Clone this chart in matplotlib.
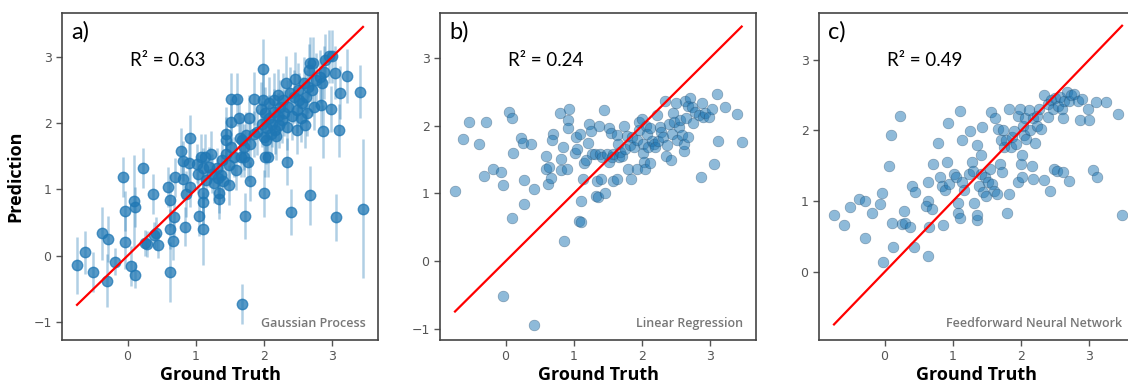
import matplotlib.pyplot as plt

# Ground truth / prediction pairs
# a) Gaussian process (with predictive std)
gp_x = [-0.74, -0.62, -0.51, -0.37, -0.30, -0.29, -0.18, -0.06, -0.04, -0.03,
        0.05, 0.10, 0.11, 0.11, 0.23, 0.26, 0.28, 0.38, 0.39, 0.41,
        0.44, 0.59, 0.62, 0.62, 0.62, 0.66, 0.68, 0.69, 0.78, 0.81,
        0.82, 0.84, 0.85, 0.90, 0.92, 0.92, 1.02, 1.03, 1.05, 1.07,
        1.10, 1.10, 1.11, 1.11, 1.13, 1.15, 1.20, 1.23, 1.24, 1.27,
        1.31, 1.32, 1.34, 1.34, 1.37, 1.38, 1.40, 1.44, 1.44, 1.45,
        1.48, 1.49, 1.51, 1.51, 1.52, 1.56, 1.59, 1.61, 1.63, 1.65,
        1.66, 1.68, 1.70, 1.71, 1.72, 1.73, 1.76, 1.78, 1.79, 1.80,
        1.85, 1.85, 1.68, 1.90, 1.95, 1.97, 1.98, 1.99, 2.00, 2.00,
        2.01, 2.02, 2.03, 2.05, 2.06, 2.07, 2.07, 2.10, 2.12, 2.14,
        2.15, 2.16, 2.17, 2.20, 2.20, 2.22, 2.24, 2.27, 2.28, 2.30,
        2.32, 2.33, 2.34, 2.35, 2.38, 2.40, 2.41, 2.44, 2.46, 2.48,
        2.49, 2.50, 2.51, 2.54, 2.56, 2.58, 2.60, 2.61, 2.63, 2.64,
        2.66, 2.68, 2.68, 2.71, 2.72, 2.73, 2.76, 2.82, 2.84, 2.85,
        2.87, 2.88, 2.90, 2.95, 2.98, 3.00, 3.04, 3.05, 3.10, 3.11,
        3.22, 3.40, 3.45]
gp_y = [-0.14, 0.05, -0.24, 0.34, -0.38, 0.25, -0.09, 1.19, 0.20, 0.68,
        -0.16, 0.82, 0.74, -0.29, 1.32, 0.19, 0.18, 0.93, 0.31, 0.34,
        0.16, 1.04, 0.84, 0.40, -0.25, 0.23, 0.58, 1.18, 1.58, 1.43,
        1.16, 0.44, 0.93, 1.40, 1.77, 1.04, 1.39, 1.24, 0.60, 1.49,
        0.41, 0.81, 0.95, 1.32, 1.49, 1.14, 1.34, 1.53, 1.24, 1.10,
        1.32, 1.17, 0.94, 0.86, 1.22, 1.44, 1.12, 1.54, 1.84, 1.74,
        1.07, 1.37, 2.36, 2.02, 1.64, 1.49, 1.29, 2.36, 2.07, 1.78,
        1.49, 1.74, 1.64, 1.49, 0.60, 1.82, 1.42, 2.07, 1.12, 1.69,
        1.84, 2.37, -0.73, 1.87, 2.22, 1.99, 2.35, 2.82, 0.94, 1.79,
        1.49, 2.15, 1.74, 1.92, 1.49, 2.30, 2.07, 1.84, 1.99, 2.35,
        2.17, 1.89, 1.80, 2.42, 2.10, 1.97, 2.25, 2.05, 2.35, 2.15,
        2.61, 1.94, 1.42, 2.25, 2.45, 0.66, 2.10, 2.40, 2.67, 2.20,
        1.89, 2.50, 2.35, 2.07, 2.30, 2.60, 1.97, 2.40, 2.15, 2.55,
        2.80, 2.90, 0.91, 2.50, 2.90, 2.25, 2.65, 2.70, 2.27, 2.60,
        1.88, 2.77, 2.95, 3.01, 2.21, 3.01, 2.76, 0.58, 1.89, 2.46,
        2.71, 2.47, 0.71]
gp_err = [0.43, 0.33, 0.30, 0.40, 0.40, 0.35, 0.20, 0.30, 0.40, 0.30,
          0.30, 0.70, 0.30, 0.20, 0.30, 0.20, 0.20, 0.30, 0.20, 0.25,
          0.20, 0.30, 0.40, 0.30, 0.45, 0.30, 0.30, 0.30, 0.35, 0.30,
          0.30, 0.30, 0.35, 0.30, 0.35, 0.30, 0.30, 0.30, 0.30, 0.35,
          0.55, 0.35, 0.30, 0.30, 0.35, 0.30, 0.30, 0.35, 0.30, 0.30,
          0.30, 0.30, 0.30, 0.30, 0.30, 0.30, 0.30, 0.35, 0.40, 0.35,
          0.30, 0.30, 0.40, 0.35, 0.35, 0.30, 0.30, 0.40, 0.35, 0.35,
          0.30, 0.35, 0.35, 0.30, 0.35, 0.35, 0.30, 0.35, 0.30, 0.35,
          0.35, 0.40, 0.30, 0.35, 0.40, 0.35, 0.40, 0.45, 0.35, 0.35,
          0.30, 0.40, 0.35, 0.35, 0.30, 0.40, 0.35, 0.35, 0.35, 0.40,
          0.35, 0.35, 0.35, 0.40, 0.35, 0.35, 0.40, 0.35, 0.40, 0.35,
          0.40, 0.35, 0.35, 0.40, 0.40, 0.35, 0.35, 0.40, 0.40, 0.35,
          0.35, 0.40, 0.40, 0.35, 0.40, 0.40, 0.35, 0.40, 0.35, 0.40,
          0.40, 0.40, 0.45, 0.40, 0.40, 0.35, 0.40, 0.40, 0.35, 0.40,
          0.40, 0.40, 0.40, 0.40, 0.35, 0.40, 0.40, 0.35, 0.40, 0.40,
          0.40, 0.40, 1.05]

# b) Linear regression
lr_x = [-0.74, -0.62, -0.53, -0.39, -0.31, -0.29, -0.18, -0.06, -0.04, -0.04,
        0.05, 0.10, 0.11, 0.10, 0.23, 0.26, 0.27, 0.27, 0.37, 0.41,
        0.42, 0.60, 0.60, 0.62, 0.63, 0.66, 0.69, 0.68, 0.80, 0.82,
        0.82, 0.84, 0.85, 0.90, 0.91, 0.91, 0.93, 1.02, 1.03, 1.04,
        1.09, 1.11, 1.08, 1.11, 1.13, 1.15, 1.18, 1.21, 1.23, 1.25,
        1.26, 1.31, 1.33, 1.34, 1.36, 1.37, 1.39, 1.40, 1.42, 1.44,
        1.46, 1.48, 1.51, 1.52, 1.54, 1.56, 1.57, 1.58, 1.63, 1.64,
        1.65, 1.67, 1.68, 1.70, 1.73, 1.75, 1.78, 1.79, 1.82, 1.84,
        1.85, 1.88, 1.92, 1.93, 1.95, 1.96, 2.00, 2.01, 2.02, 2.03,
        2.05, 2.06, 2.07, 2.09, 2.11, 2.12, 2.14, 2.17, 2.19, 2.22,
        2.24, 2.26, 2.28, 2.31, 2.34, 2.35, 2.37, 2.40, 2.42, 2.44,
        2.45, 2.47, 2.50, 2.51, 2.54, 2.56, 2.58, 2.61, 2.62, 2.63,
        2.65, 2.67, 2.68, 2.71, 2.73, 2.75, 2.78, 2.83, 2.86, 2.88,
        2.89, 2.93, 2.98, 3.03, 3.05, 3.10, 3.11, 3.22, 3.39, 3.46]
lr_y = [1.04, 1.81, 2.05, 1.73, 1.26, 2.05, 1.36, 1.32, 1.13, -0.51,
        2.20, 2.11, 1.59, 0.64, 1.82, 1.74, 1.20, 0.85, 1.73, -0.94,
        1.07, 1.55, 1.36, 1.14, 1.39, 1.23, 1.87, 1.79, 2.19, 1.51,
        1.35, 1.68, 0.30, 1.36, 2.09, 1.97, 2.25, 1.59, 1.83, 1.65,
        1.88, 0.89, 0.60, 0.58, 1.21, 1.45, 1.50, 1.74, 2.03, 1.92,
        1.58, 1.58, 0.96, 1.19, 0.95, 1.99, 1.58, 1.22, 1.54, 2.23,
        1.00, 1.58, 1.46, 1.96, 1.89, 1.54, 1.18, 1.58, 1.86, 1.22,
        1.73, 1.54, 1.61, 1.55, 1.99, 1.66, 1.84, 1.36, 1.72, 1.22,
        1.83, 1.68, 1.79, 1.36, 2.05, 1.93, 2.10, 1.73, 1.59, 1.46,
        1.36, 2.00, 1.88, 1.68, 1.45, 1.96, 1.78, 1.73, 1.68, 2.15,
        1.78, 1.98, 1.91, 1.83, 2.37, 1.55, 1.71, 2.03, 1.49, 1.88,
        2.18, 2.05, 2.33, 1.79, 1.98, 2.08, 1.86, 1.63, 1.73, 2.37,
        2.11, 2.29, 1.83, 2.40, 2.28, 2.04, 2.20, 2.15, 1.24, 2.33,
        2.13, 2.18, 2.13, 2.25, 1.43, 2.47, 1.78, 2.28, 2.17, 1.76]

# c) Feedforward neural network
nn_x = [-0.74, -0.60, -0.51, -0.38, -0.29, -0.28, -0.18, -0.06, -0.04, -0.02,
        0.07, 0.10, 0.11, 0.12, 0.23, 0.26, 0.28, 0.30, 0.38, 0.40,
        0.43, 0.45, 0.63, 0.63, 0.63, 0.61, 0.65, 0.69, 0.71, 0.79,
        0.82, 0.84, 0.85, 0.89, 0.92, 0.93, 0.94, 1.02, 1.04, 1.07,
        1.08, 1.10, 1.11, 1.13, 1.14, 1.16, 1.24, 1.25, 1.28, 1.30,
        1.31, 1.35, 1.36, 1.36, 1.39, 1.41, 1.42, 1.43, 1.44, 1.47,
        1.49, 1.52, 1.54, 1.56, 1.57, 1.61, 1.62, 1.65, 1.67, 1.69,
        1.70, 1.72, 1.73, 1.75, 1.78, 1.80, 1.82, 1.83, 1.85, 1.87,
        1.90, 1.92, 1.95, 1.96, 1.98, 2.00, 2.01, 2.02, 2.03, 2.05,
        2.06, 2.08, 2.11, 2.13, 2.16, 2.17, 2.18, 2.21, 2.23, 2.24,
        2.27, 2.29, 2.33, 2.34, 2.39, 2.40, 2.42, 2.44, 2.47, 2.49,
        2.50, 2.52, 2.54, 2.57, 2.60, 2.61, 2.62, 2.63, 2.67, 2.70,
        2.71, 2.73, 2.78, 2.83, 2.87, 2.89, 2.98, 3.00, 3.05, 3.10,
        3.12, 3.24, 3.42, 3.48]
nn_y = [0.80, 0.67, 0.92, 1.03, 0.48, 1.00, 0.84, 0.96, 1.11, 0.14,
        1.50, 1.94, 0.70, 0.36, 2.21, 0.68, 0.86, 0.69, 0.64, 1.22,
        0.35, 1.13, 1.27, 1.01, 0.22, 0.94, 0.64, 0.89, 1.52, 1.83,
        1.35, 1.22, 0.67, 1.16, 1.55, 2.10, 1.25, 1.39, 1.34, 0.97,
        0.84, 2.28, 0.77, 1.27, 1.87, 1.16, 1.39, 1.99, 1.55, 1.43,
        0.97, 0.73, 1.80, 0.80, 1.22, 1.39, 1.65, 2.05, 1.13, 1.34,
        1.08, 1.27, 1.46, 2.26, 1.25, 1.15, 2.17, 1.10, 2.02, 1.52,
        1.87, 1.41, 2.01, 1.76, 1.87, 0.83, 2.31, 1.10, 1.76, 1.91,
        1.99, 1.81, 1.27, 2.20, 2.31, 1.52, 1.66, 1.34, 2.06, 1.93,
        2.18, 1.88, 2.29, 2.00, 1.50, 1.32, 2.17, 1.82, 2.06, 2.21,
        2.31, 2.02, 2.50, 1.30, 2.38, 2.19, 1.14, 2.43, 2.31, 1.46,
        2.46, 1.43, 2.34, 2.47, 2.31, 2.17, 1.41, 2.42, 2.54, 1.29,
        2.42, 2.50, 2.52, 2.42, 2.15, 2.45, 2.31, 2.15, 1.44, 2.40,
        1.35, 2.40, 2.24, 0.81]

titles = ["a)", "b)", "c)"]
r2_labels = ["R² = 0.63", "R² = 0.24", "R² = 0.49"]
model_names = ["Gaussian Process", "Linear Regression", "Feedforward Neural Network"]
ylims = [(-1.27, 3.66), (-1.16, 3.66), (-0.96, 3.66)]
xlim = (-0.96, 3.67)

blue = "#1f77b4"
fig = plt.figure(figsize=(11.28, 3.87), dpi=100)
lefts = [62, 440, 819]
axes = [fig.add_axes([l / 1128, 1 - 340 / 387, 316 / 1128, 327 / 387]) for l in lefts]

# a) error bars (light) with markers on top
ax = axes[0]
ax.errorbar(gp_x, gp_y, yerr=gp_err, fmt="none", ecolor=blue, alpha=0.35,
            elinewidth=1.8, capsize=0, zorder=1)
ax.plot(gp_x, gp_y, "o", ms=7.5, color=blue, mec=blue, alpha=0.75, zorder=2)
ax.set_ylabel("Prediction", fontsize=13, fontweight="bold", family="Open Sans",
              labelpad=6)

# b) and c) scatter
axes[1].scatter(lr_x, lr_y, s=60, color=blue, alpha=0.5, edgecolors="#2a4a66",
                linewidths=0.4, zorder=2)
axes[2].scatter(nn_x, nn_y, s=60, color=blue, alpha=0.5, edgecolors="#2a4a66",
                linewidths=0.4, zorder=2)

xs = [gp_x, lr_x, nn_x]
for i, ax in enumerate(axes):
    lo, hi = min(xs[i]), max(xs[i])
    ax.plot([lo, hi], [lo, hi], color="red", lw=1.6, zorder=3)
    ax.set_xlim(*xlim)
    ax.set_ylim(*ylims[i])
    ax.set_xticks([0, 1, 2, 3])
    ax.set_yticks([t for t in [-1, 0, 1, 2, 3] if t > ylims[i][0]])
    ax.tick_params(colors="#555555", labelsize=9, length=4, width=1)
    for sp in ax.spines.values():
        sp.set_color("#444444")
        sp.set_linewidth(1.2)
    ax.set_xlabel("Ground Truth", fontsize=13, fontweight="bold", family="Open Sans",
                  labelpad=2)
    ax.text(0.03, 0.975, titles[i], transform=ax.transAxes, fontsize=17,
            family="Lato", va="top", ha="left")
    ax.text(0.215, 0.855, r2_labels[i], transform=ax.transAxes, fontsize=13.5,
            family="Lato", va="center", ha="left")
    ax.text(0.96, 0.05, model_names[i], transform=ax.transAxes, fontsize=9,
            family="Open Sans", fontweight="semibold", color="#777777",
            va="center", ha="right")

plt.savefig("out.png", dpi=100)
